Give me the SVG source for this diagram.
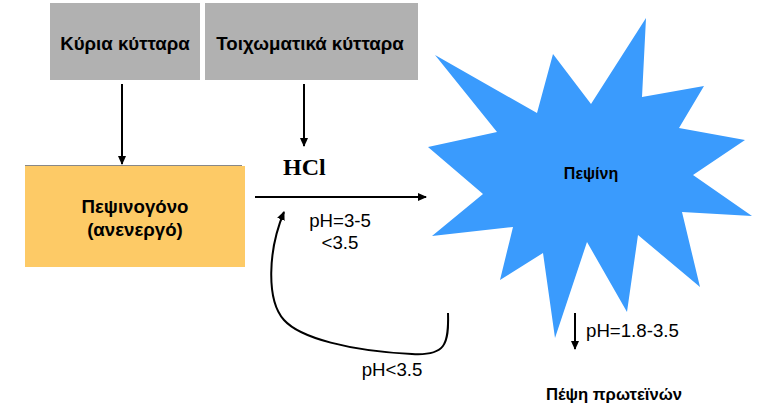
<svg xmlns="http://www.w3.org/2000/svg" width="763" height="416" viewBox="0 0 763 416">
<defs>
<style>
.gray{fill:#b1b1b1}
.t{font-family:"Liberation Sans",Arial,sans-serif;fill:#000}
.b{font-weight:bold}
.ln{stroke:#000;stroke-width:2;fill:none}
</style>
<marker id="ah" markerWidth="10" markerHeight="10" refX="8" refY="5" orient="auto" markerUnits="userSpaceOnUse">
<path d="M0,1 L9,5 L0,9 Z" fill="#000"/>
</marker>
</defs>
<rect width="763" height="416" fill="#fff"/>
<g id="kyria">
<rect class="gray" x="50" y="3" width="150" height="77"/>
<text class="t b" x="125" y="50" font-size="18.67" text-anchor="middle">Κύρια κύτταρα</text>
</g>
<g id="toixomatika">
<rect class="gray" x="205" y="3" width="213" height="77"/>
<text class="t b" x="310" y="50" font-size="18.67" text-anchor="middle">Τοιχωματικά κύτταρα</text>
</g>
<g id="pepsinogono">
<rect x="25" y="166" width="220" height="101" fill="#fdca66"/>
<line x1="25" y1="165.5" x2="242" y2="165.5" stroke="#888" stroke-width="1"/>
<text class="t b" x="135" y="213" font-size="18.67" text-anchor="middle">Πεψινογόνο</text>
<text class="t b" x="135" y="236" font-size="18.67" text-anchor="middle">(ανενεργό)</text>
</g>
<g id="hcl">
<text x="283" y="175" font-family="Liberation Serif,'Times New Roman',serif" font-weight="bold" font-size="24">HCl</text>
</g>
<g id="pepsini">
<polygon fill="#3a9bfd" points="435,55 537,113 553,54 591,104 646,18 642,97 704,86 679,128 745,140 693,175 752,216 682,212 700,287 638,235 627,312 587,242 555,338 543,253 500,280 513,227 432,236 483,194 428,147 497,132"/>
<text class="t b" x="591" y="179" font-size="16" text-anchor="middle">Πεψίνη</text>
</g>
<g id="pepsi">
<text class="t b" x="614" y="400" font-size="16.67" text-anchor="middle">Πέψη πρωτεϊνών</text>
</g>
<g id="connectors">
<line class="ln" x1="122" y1="84" x2="122" y2="164" marker-end="url(#ah)"/>
<line class="ln" x1="304" y1="84" x2="304" y2="146" marker-end="url(#ah)"/>
<line class="ln" x1="255" y1="197" x2="426" y2="197" stroke-width="2.5" marker-end="url(#ah)"/>
<path class="ln" stroke-width="2.5" d="M448,313 C449,345 445,356 412,354 C350,351 300,338 284,320 C266,300 268,250 284,212" marker-end="url(#ah)"/>
<line class="ln" x1="575" y1="313" x2="575" y2="349" marker-end="url(#ah)"/>
</g>
<g id="labels">
<text class="t" x="340" y="227" font-size="18.67" text-anchor="middle">pH=3-5</text>
<text class="t" x="340" y="249" font-size="18.67" text-anchor="middle">&lt;3.5</text>
<text class="t" x="392" y="376" font-size="18.67" text-anchor="middle">pH&lt;3.5</text>
<text class="t" x="586" y="337" font-size="18.67">pH=1.8-3.5</text>
</g>
</svg>
